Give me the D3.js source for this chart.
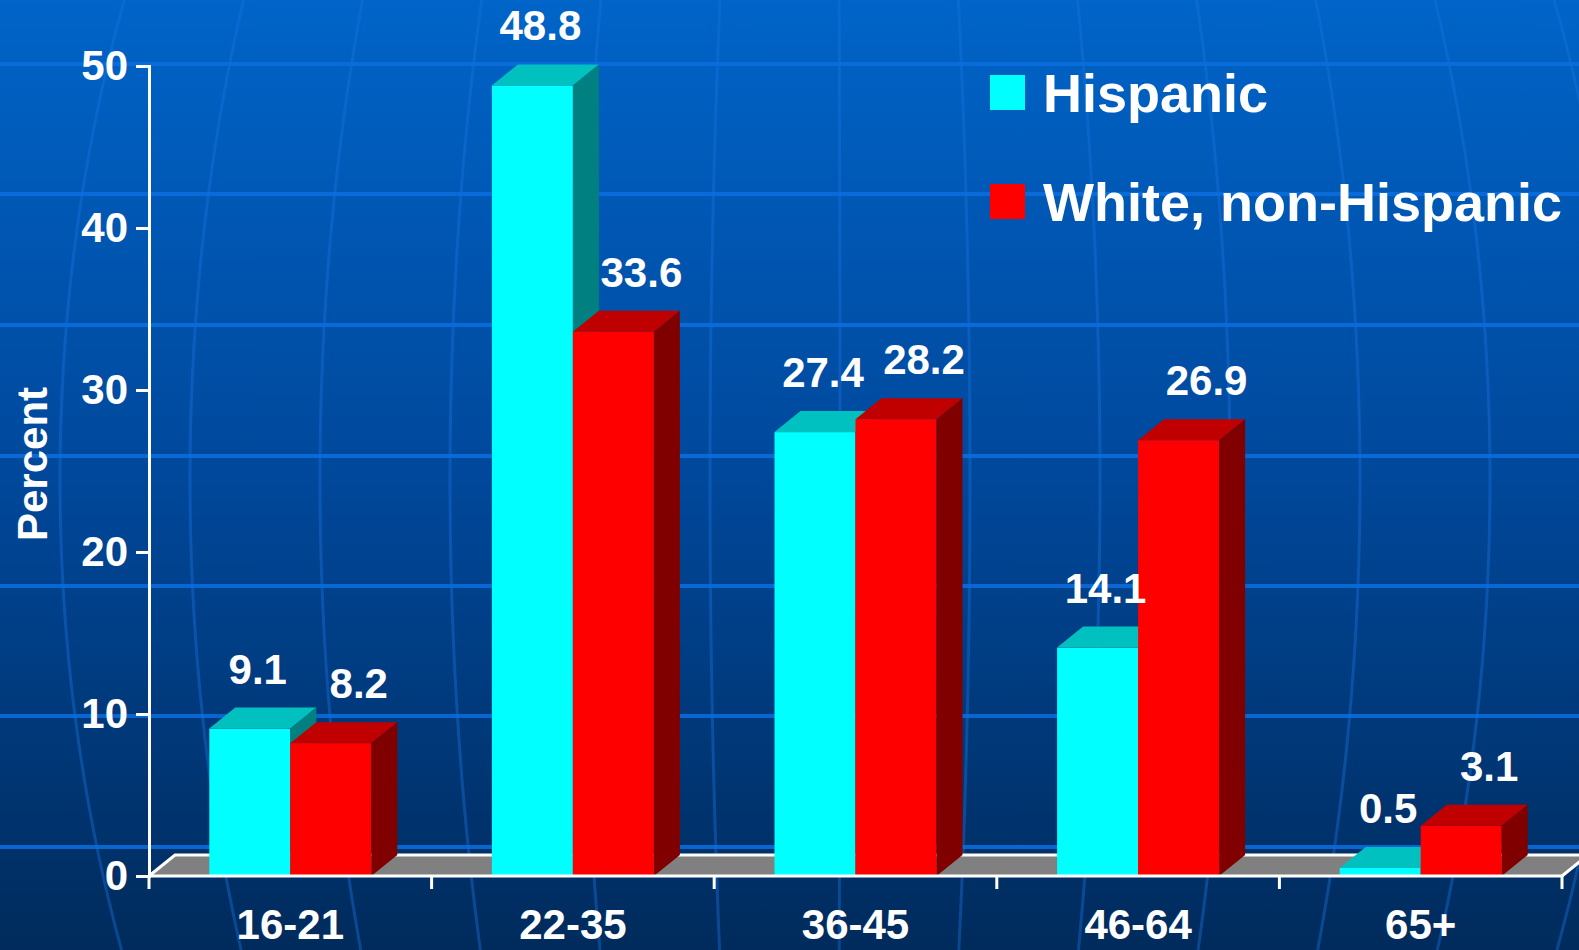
<!DOCTYPE html>
<html>
<head>
<meta charset="utf-8">
<script src="https://cdn.jsdelivr.net/npm/d3@7"></script>
<style>
  body { margin: 0; background: #003a7a; }
  svg { display: block; }
  text { font-family: "Liberation Sans", Arial, sans-serif; font-weight: bold; fill: #fff; }
</style>
</head>
<body>
<div id="chart"></div>
<script>
// chart data
const categories = ["16-21", "22-35", "36-45", "46-64", "65+"];
const seriesNames = ["Hispanic", "White, non-Hispanic"];
const hispanic = [9.1, 48.8, 27.4, 14.1, 0.5];
const whiteNonHispanic = [8.2, 33.6, 28.2, 26.9, 3.1];
const yTicks = [0, 10, 20, 30, 40, 50];

// face colours: front, top, side
const palette = {
  "Hispanic": ["#00ffff", "#00c0c0", "#008080"],
  "White, non-Hispanic": ["#ff0000", "#c00000", "#800000"]
};
// label shift to the right of the front face centre
const labelShift = { "Hispanic": 8, "White, non-Hispanic": 28 };

const W = 1579, H = 950;
const depthX = 26, depthY = 21;

const svg = d3.select("#chart").append("svg")
  .attr("width", W)
  .attr("height", H);

// background gradient
const defs = svg.append("defs");
const grad = defs.append("linearGradient")
  .attr("id", "bg").attr("x1", 0).attr("y1", 0).attr("x2", 0).attr("y2", 1);
grad.append("stop").attr("offset", "0%").attr("stop-color", "#0064c8");
grad.append("stop").attr("offset", "50%").attr("stop-color", "#00489b");
grad.append("stop").attr("offset", "100%").attr("stop-color", "#002b5c");
svg.append("rect").attr("width", W).attr("height", H).attr("fill", "url(#bg)");

// decorative globe meridians and parallels
var deco = svg.append("g");
var xc = 830, yc = 480, B = 1200;
for (var k = 0; k < 13; k++) {
  var d = -770 + 130 * k;
  var pts = d3.range(0, H + 10, 10).map(function(y) {
    var s = Math.sqrt(1 - Math.pow((y - yc) / B, 2));
    return [xc + d * s, y];
  });
  deco.append("path")
    .attr("d", d3.line()(pts))
    .attr("fill", "none")
    .attr("stroke", "#1a72e0")
    .attr("stroke-opacity", 0.4)
    .attr("stroke-width", 3);
}
[64, 194, 325, 456, 586, 716, 847].forEach(function(y) {
  deco.append("line")
    .attr("x1", 0).attr("x2", W).attr("y1", y).attr("y2", y)
    .attr("stroke", "#0a6ee0")
    .attr("stroke-opacity", 0.85)
    .attr("stroke-width", 4);
});

// scales
const x = d3.scaleBand().domain(categories).range([149, 1562]);
const y = d3.scaleLinear().domain([0, 50]).range([876, 66]);
const barW = 81;
const xs = d3.scaleBand().domain(seriesNames)
  .range([(x.bandwidth() - 2 * barW) / 2, (x.bandwidth() + 2 * barW) / 2]);

// floor
const x0 = x.range()[0], x1 = x.range()[1], y0 = y(0);
svg.append("path")
  .attr("d", "M" + x0 + "," + y0 + "L" + x1 + "," + y0 + "L" + (x1 + depthX) + "," + (y0 - depthY)
    + "L" + (x0 + depthX) + "," + (y0 - depthY) + "Z")
  .attr("fill", "#808080");
svg.append("path")
  .attr("d", "M" + x0 + "," + y0 + "L" + (x0 + depthX) + "," + (y0 - depthY)
    + "L" + (x1 + depthX) + "," + (y0 - depthY) + "M" + x1 + "," + y0 + "L" + (x1 + depthX) + "," + (y0 - depthY))
  .attr("fill", "none")
  .attr("stroke", "#fff")
  .attr("stroke-width", 3);

// bars
var bars = [];
categories.forEach(function(c, i) {
  bars.push({cat: c, series: seriesNames[0], value: hispanic[i]});
  bars.push({cat: c, series: seriesNames[1], value: whiteNonHispanic[i]});
});

const barG = svg.append("g");
bars.forEach(function(b) {
  var left = x(b.cat) + xs(b.series);
  var right = left + barW;
  var top = y(b.value);
  var cols = palette[b.series];
  var g = barG.append("g");
  // front
  g.append("rect")
    .attr("x", left).attr("y", top)
    .attr("width", barW).attr("height", y0 - top)
    .attr("fill", cols[0]);
  // top
  g.append("path")
    .attr("d", "M" + left + "," + top + "L" + (left + depthX) + "," + (top - depthY)
      + "L" + (right + depthX) + "," + (top - depthY) + "L" + right + "," + top + "Z")
    .attr("fill", cols[1]);
  // side
  g.append("path")
    .attr("d", "M" + right + "," + top + "L" + (right + depthX) + "," + (top - depthY)
      + "L" + (right + depthX) + "," + (y0 - depthY) + "L" + right + "," + y0 + "Z")
    .attr("fill", cols[2]);
});

// value labels
svg.append("g").selectAll("text")
  .data(bars)
  .join("text")
    .attr("x", function(b) { return x(b.cat) + xs(b.series) + barW / 2 + labelShift[b.series]; })
    .attr("y", function(b) { return y(b.value) - depthY - 24; })
    .attr("text-anchor", "middle")
    .attr("font-size", 42)
    .text(function(b) { return b.value.toFixed(1); });

// y axis
const yAxis = svg.append("g").attr("transform", "translate(" + x0 + ",0)")
  .call(d3.axisLeft(y).tickValues(yTicks).tickSize(13).tickPadding(8));
yAxis.select(".domain").attr("stroke", "#fff").attr("stroke-width", 3);
yAxis.selectAll(".tick line").attr("stroke", "#fff").attr("stroke-width", 3);
yAxis.selectAll(".tick text")
  .attr("font-size", 42)
  .attr("font-family", "Liberation Sans, Arial, sans-serif")
  .attr("fill", "#fff");

// x axis
svg.append("line")
  .attr("x1", x0).attr("x2", x1).attr("y1", y0).attr("y2", y0)
  .attr("stroke", "#fff").attr("stroke-width", 3);
const boundaries = categories.map(function(c) { return x(c); }).concat([x1]);
svg.append("g").selectAll("line")
  .data(boundaries)
  .join("line")
    .attr("x1", function(d) { return d; }).attr("x2", function(d) { return d; })
    .attr("y1", y0).attr("y2", y0 + 13)
    .attr("stroke", "#fff").attr("stroke-width", 3);
svg.append("g").selectAll("text")
  .data(categories)
  .join("text")
    .attr("x", function(c) { return x(c) + x.bandwidth() / 2; })
    .attr("y", 939)
    .attr("text-anchor", "middle")
    .attr("font-size", 42)
    .text(function(c) { return c; });

// y title
svg.append("text")
  .attr("transform", "translate(47,464) rotate(-90)")
  .attr("text-anchor", "middle")
  .attr("font-size", 42)
  .text("Percent");

// legend
const legend = svg.append("g");
seriesNames.forEach(function(s, i) {
  legend.append("rect")
    .attr("x", 990).attr("y", 75 + i * 109)
    .attr("width", 35).attr("height", 35)
    .attr("fill", palette[s][0]);
  legend.append("text")
    .attr("x", 1043).attr("y", 112 + i * 109)
    .attr("font-size", 54)
    .text(s);
});
</script>
</body>
</html>
